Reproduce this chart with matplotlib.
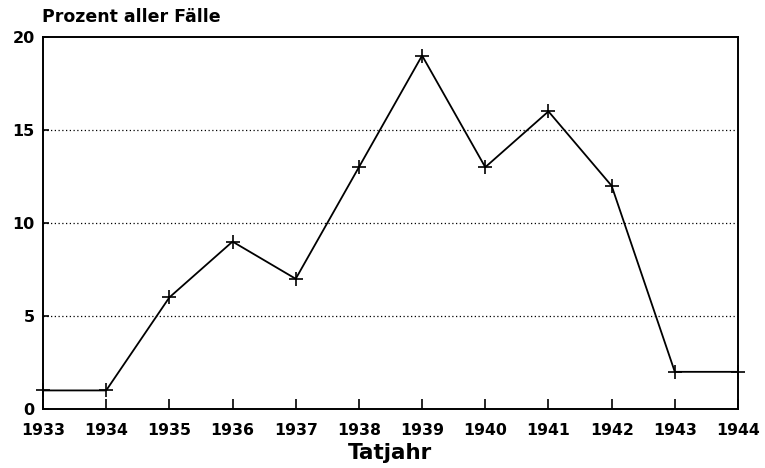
import matplotlib.pyplot as plt
import numpy as np

# Anteil der Fälle pro Tatjahr (in Prozent)
years = [1933, 1934, 1935, 1936, 1937, 1938, 1939, 1940, 1941, 1942, 1943, 1944]
percent = [1, 1, 6, 9, 7, 13, 19, 13, 16, 12, 2, 2]
y_ticks = [0, 5, 10, 15, 20]

plt.rcParams['font.family'] = ['DejaVu Sans']

fig = plt.figure(figsize=(7.65, 4.68), dpi=100)
ax = fig.add_axes([0.0562, 0.126, 0.9085, 0.795])

# dotted horizontal guide lines
for y in y_ticks[1:-1]:
    ax.axhline(y, color='black', linestyle=(0, (1, 2)), linewidth=0.9, zorder=1)

ax.plot(years, percent, color='black', linewidth=1.3, marker='+',
        markersize=10.5, markeredgewidth=1.2, clip_on=False, zorder=3)

ax.set_xlim(1933, 1944)
ax.set_ylim(0, 20)
ax.set_xticks(years)
ax.set_xticklabels([str(y) for y in years], fontweight='bold', fontsize=11.3)
ax.set_yticks(y_ticks)
ax.set_yticklabels([str(y) for y in y_ticks], fontweight='bold', fontsize=11.5)

ax.tick_params(axis='x', direction='in', length=7, width=1.2, pad=10)
ax.tick_params(axis='y', direction='in', length=4, width=1.2, pad=6)

for side in ['left', 'right', 'top', 'bottom']:
    ax.spines[side].set_linewidth(1.4)

ax.set_xlabel('Tatjahr', fontsize=15.5, fontweight='bold', labelpad=4)
fig.text(0.055, 0.963, 'Prozent aller Fälle', fontsize=12.5, fontweight='bold',
         ha='left', va='center')

plt.savefig('out.png', dpi=100)
